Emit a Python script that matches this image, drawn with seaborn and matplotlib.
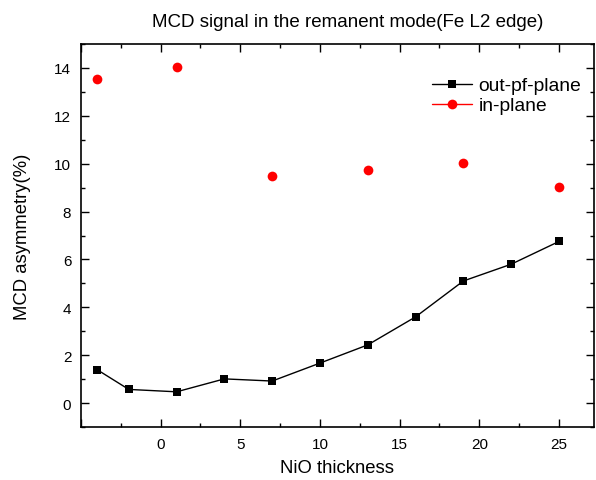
import numpy as np
import pandas as pd
import seaborn as sns
import matplotlib
matplotlib.use('Agg')
import matplotlib.pyplot as plt
from matplotlib.lines import Line2D
from matplotlib.ticker import MultipleLocator, FuncFormatter

# values
out_x = [-4, -2, 1, 4, 7, 10, 13, 16, 19, 22, 25]
out_y = [1.40, 0.57, 0.47, 1.01, 0.92, 1.67, 2.43, 3.60, 5.10, 5.80, 6.75]
in_x = [-4, 1, 7, 13, 19, 25]
in_y = [13.55, 14.03, 9.50, 9.75, 10.04, 9.02]

sns.set_style('ticks', {'axes.edgecolor': 'black', 'text.color': 'black',
                        'axes.labelcolor': 'black', 'xtick.color': 'black',
                        'ytick.color': 'black'})
plt.rcParams['font.family'] = ['Liberation Sans', 'DejaVu Sans']

df_out = pd.DataFrame({'x': out_x, 'y': out_y})
df_in = pd.DataFrame({'x': in_x, 'y': in_y})

fig = plt.figure(figsize=(5.96, 4.81), dpi=100)
ax = fig.add_axes([81 / 596, 1 - 428 / 481, (594 - 81) / 596, (428 - 45) / 481])

sns.lineplot(data=df_out, x='x', y='y', ax=ax, color='black', lw=1,
             marker='s', markersize=6, markeredgewidth=0, zorder=3)
sns.lineplot(data=df_in, x='x', y='y', ax=ax, color='red', lw=0,
             marker='o', markersize=7, markeredgewidth=0, zorder=3)

ax.set_xlim(-5, 27.2)
ax.set_ylim(-1, 15)
ax.xaxis.set_major_locator(MultipleLocator(5))
ax.xaxis.set_minor_locator(MultipleLocator(2.5))
ax.xaxis.set_major_formatter(FuncFormatter(lambda v, p: '' if v < 0 else f'{v:.0f}'))
ax.yaxis.set_major_locator(MultipleLocator(2))
ax.yaxis.set_minor_locator(MultipleLocator(1))
ax.tick_params(which='both', direction='in', top=True, right=True,
               width=1, labelsize=11, pad=7)
ax.tick_params(which='major', length=6)
ax.tick_params(which='minor', length=3)
for s in ax.spines.values():
    s.set_linewidth(1.2)

ax.set_xlabel('NiO thickness', fontsize=13.3, labelpad=6)
ax.set_ylabel('MCD asymmetry(%)', fontsize=13.3, labelpad=17)
ax.set_title('MCD signal in the remanent mode(Fe L2 edge)', fontsize=13.5,
             x=0.52, pad=13)

handles = [
    Line2D([], [], color='black', lw=1, marker='s', markersize=6, markeredgewidth=0),
    Line2D([], [], color='red', lw=1, marker='o', markersize=7, markeredgewidth=0),
]
ax.legend(handles, ['out-pf-plane', 'in-plane'], loc='upper left',
          bbox_to_anchor=(0.684, 0.914), frameon=False, fontsize=13.9,
          borderpad=0, borderaxespad=0,
          handlelength=2.06, handletextpad=0.36, labelspacing=0.13)

fig.savefig('out.png', dpi=100)
